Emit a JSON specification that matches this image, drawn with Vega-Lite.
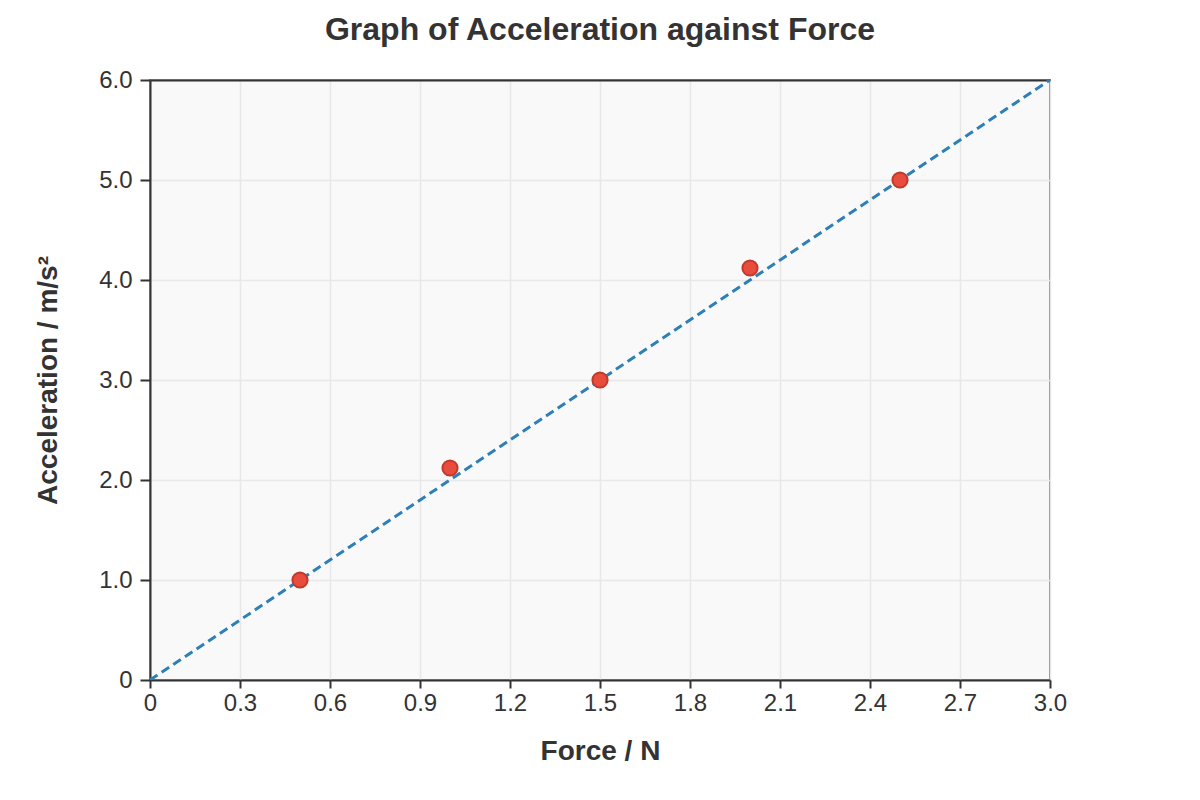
{
  "$schema": "https://vega.github.io/schema/vega-lite/v6.json",
  "width": 900,
  "height": 600,
  "autosize": {"type": "none"},
  "padding": {"left": 150, "top": 80, "right": 150, "bottom": 120},
  "background": "white",
  "title": {
    "text": "Graph of Acceleration against Force",
    "fontSize": 32,
    "fontWeight": "bold",
    "font": "Liberation Sans",
    "color": "#333333",
    "anchor": "middle",
    "offset": 21
  },
  "config": {
    "view": {"fill": "#f9f9f9", "stroke": "#888888", "strokeWidth": 2},
    "axis": {
      "labelFont": "Liberation Sans",
      "titleFont": "Liberation Sans",
      "labelFontSize": 24,
      "labelColor": "#333333",
      "labelFlush": false,
      "titleFontSize": 28,
      "titleFontWeight": "bold",
      "titleColor": "#333333",
      "domainColor": "#333333",
      "domainWidth": 2,
      "tickColor": "#333333",
      "tickWidth": 2,
      "gridColor": "#e8e8e8",
      "gridWidth": 1.5
    }
  },
  "datasets": {
    "points": [
      {"force": 0.5, "accel": 1.0},
      {"force": 1.0, "accel": 2.12},
      {"force": 1.5, "accel": 3.0},
      {"force": 2.0, "accel": 4.12},
      {"force": 2.5, "accel": 5.0}
    ],
    "fit": [
      {"force": 0, "accel": 0},
      {"force": 3.0, "accel": 6.0}
    ]
  },
  "layer": [
    {
      "data": {"name": "fit"},
      "mark": {"type": "line", "color": "#2e7fb8", "strokeWidth": 3, "strokeDash": [9, 5], "clip": true},
      "encoding": {
        "x": {
          "field": "force",
          "type": "quantitative",
          "title": "Force / N",
          "scale": {"domain": [0, 3.0], "nice": false},
          "axis": {
            "values": [0, 0.3, 0.6, 0.9, 1.2, 1.5, 1.8, 2.1, 2.4, 2.7, 3.0],
            "labelExpr": "datum.value == 0 ? '0' : format(datum.value, '.1f')",
            "tickSize": 8,
            "labelPadding": 3,
            "titlePadding": 22
          }
        },
        "y": {
          "field": "accel",
          "type": "quantitative",
          "title": "Acceleration / m/s²",
          "scale": {"domain": [0, 6.0], "nice": false},
          "axis": {
            "values": [0, 1, 2, 3, 4, 5, 6],
            "labelExpr": "datum.value == 0 ? '0' : format(datum.value, '.1f')",
            "tickSize": 10,
            "labelPadding": 8,
            "titlePadding": 36
          }
        }
      }
    },
    {
      "data": {"name": "points"},
      "mark": {"type": "point", "filled": true, "size": 230, "fill": "#e74c3c", "stroke": "#c0392b", "strokeWidth": 2, "opacity": 1},
      "encoding": {
        "x": {"field": "force", "type": "quantitative", "axis": null},
        "y": {"field": "accel", "type": "quantitative"}
      }
    },
    {
      "data": {"name": "fit"},
      "mark": {"type": "rule", "opacity": 0},
      "encoding": {
        "x2": {"field": "force", "type": "quantitative"},
        "x": {
          "field": "force",
          "type": "quantitative",
          "axis": {"orient": "top", "labels": false, "ticks": false, "grid": false, "title": null}
        }
      }
    }
  ],
  "resolve": {"axis": {"x": "independent"}}
}
